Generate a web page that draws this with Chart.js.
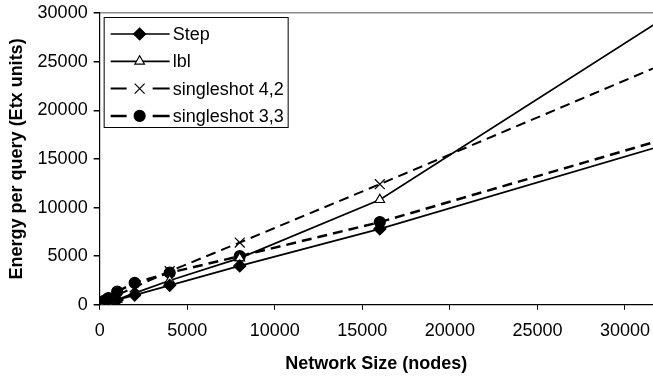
<!doctype html>
<html>
<head>
  <title>Energy per query</title>
  <script src="https://cdn.jsdelivr.net/npm/chart.js@4.4.1/dist/chart.umd.min.js"></script>
  <style>
    html, body { margin: 0; padding: 0; background: #fff; overflow: hidden; }
    #wrap { width: 653px; height: 381px; position: relative; }
  </style>
</head>
<body>
<div id="wrap">
  <canvas id="energy"></canvas>
</div>
<script>
  // network sizes (nodes) and energy per query for each scheme
  const sizes = [250, 500, 1000, 2000, 4000, 8000, 16000, 32000];
  const stepEnergy = [120, 250, 500, 1000, 2000, 4000, 7800, 16300];
  const lblEnergy = [60, 200, 550, 1200, 2500, 4800, 10800, 29200];
  const single42Energy = [300, 550, 1000, 1800, 3450, 6400, 12400, 24600];
  const single33Energy = [400, 700, 1350, 2250, 3300, 5000, 8500, 16900];
  const seriesNames = ['Step', 'lbl', 'singleshot 4,2', 'singleshot 3,3'];
  const xTickValues = [0, 5000, 10000, 15000, 20000, 25000, 30000];

  const FONT = '"Liberation Sans", Arial, sans-serif';
  Chart.defaults.font.family = FONT;
  Chart.defaults.font.size = 18;
  Chart.defaults.color = '#000';

  function points(vals) {
    return sizes.map((x, i) => ({ x: x, y: vals[i] }));
  }

  function series(label, vals, style) {
    return Object.assign({
      label: label,
      data: points(vals),
      borderColor: '#000',
      borderWidth: 1.7,
      pointBorderColor: '#000',
      pointBorderWidth: 1.2,
      pointHoverRadius: 0,
      tension: 0,
      fill: false
    }, style);
  }

  const plainTick = v => String(Math.round(v));

  // legend box drawn inside the plot, top left
  const boxLegend = {
    id: 'boxLegend',
    afterDraw(chart) {
      const ctx = chart.ctx;
      const area = chart.chartArea;
      const left = area.left + 4, top = area.top + 4;
      const w = 184, h = 110;
      ctx.save();
      ctx.fillStyle = '#fff';
      ctx.fillRect(left, top, w, h);
      ctx.strokeStyle = '#000';
      ctx.lineWidth = 1;
      ctx.strokeRect(left + 0.5, top + 0.5, w, h);
      chart.data.datasets.forEach((ds, i) => {
        const y = top + 17 + i * 27.3;
        const x0 = left + 7, x1 = left + 66, mx = left + 36;
        ctx.strokeStyle = '#000';
        ctx.lineWidth = ds.borderWidth;
        ctx.setLineDash([]);
        ctx.beginPath();
        if (ds.borderDash) {
          ctx.moveTo(x0, y); ctx.lineTo(mx - 13, y);
          ctx.moveTo(mx + 13, y); ctx.lineTo(x1, y);
        } else {
          ctx.moveTo(x0, y); ctx.lineTo(x1, y);
        }
        ctx.stroke();
        ctx.fillStyle = ds.pointBackgroundColor;
        ctx.lineWidth = ds.pointBorderWidth;
        Chart.helpers.drawPoint(ctx, {
          pointStyle: ds.pointStyle,
          radius: ds.pointRadius,
          rotation: 0,
          borderWidth: ds.pointBorderWidth
        }, mx, y);
        ctx.fillStyle = '#000';
        ctx.font = '18px ' + FONT;
        ctx.textBaseline = 'middle';
        ctx.fillText(ds.label, left + 69, y + 1);
      });
      ctx.restore();
    }
  };

  const config = {
    type: 'line',
    data: {
      datasets: [
        series(seriesNames[0], stepEnergy, {
          pointStyle: 'rectRot', pointRadius: 6, pointBackgroundColor: '#000'
        }),
        series(seriesNames[1], lblEnergy, {
          pointStyle: 'triangle', pointRadius: 5.5, pointBackgroundColor: '#fff'
        }),
        series(seriesNames[2], single42Energy, {
          pointStyle: 'crossRot', pointRadius: 7, pointBackgroundColor: '#000',
          borderDash: [10, 6], borderWidth: 2
        }),
        series(seriesNames[3], single33Energy, {
          pointStyle: 'circle', pointRadius: 5.5, pointBackgroundColor: '#000',
          borderDash: [10, 6], borderWidth: 2.5
        })
      ]
    },
    options: {
      responsive: true,
      maintainAspectRatio: false,
      animation: false,
      layout: { autoPadding: false, padding: { left: 2, right: 0, top: 13, bottom: 6 } },
      plugins: {
        legend: { display: false },
        tooltip: { enabled: false }
      },
      scales: {
        x: {
          type: 'linear',
          min: 0,
          max: 31600,
          // the axis runs past 30000 without a label there
          afterBuildTicks(scale) {
            scale.ticks = xTickValues.map(v => ({ value: v }));
          },
          afterFit(scale) {
            scale.paddingRight = 0;
          },
          ticks: { padding: 10, maxRotation: 0, autoSkip: false, callback: plainTick },
          grid: { drawOnChartArea: false, tickLength: 5, tickColor: '#000' },
          border: { color: '#000', width: 1.2 },
          title: {
            display: true,
            text: 'Network Size (nodes)',
            font: { weight: 'bold', size: 18 },
            padding: { top: 2, bottom: 0 }
          }
        },
        y: {
          min: 0,
          max: 30000,
          afterFit(scale) {
            scale.paddingTop = 0;
          },
          ticks: { stepSize: 5000, padding: 6, callback: plainTick },
          grid: {
            color: ctx => (ctx.tick && ctx.tick.value === 30000 ? '#8c8c8c' : 'rgba(0,0,0,0)'),
            lineWidth: 1.5,
            tickLength: 6,
            tickColor: '#000'
          },
          border: { color: '#000', width: 1.2 },
          title: {
            display: true,
            text: 'Energy per query (Etx units)',
            font: { weight: 'bold', size: 18 },
            padding: { top: 4, bottom: 4 }
          }
        }
      }
    },
    plugins: [boxLegend]
  };

  const chart = new Chart(document.getElementById('energy'), config);
</script>
</body>
</html>
